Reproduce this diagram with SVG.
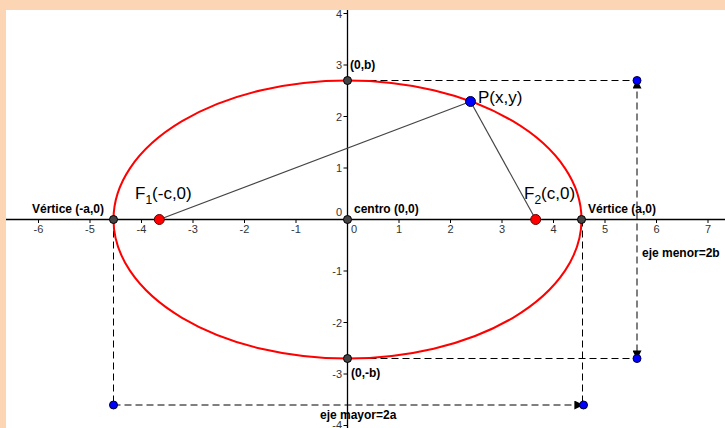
<svg xmlns="http://www.w3.org/2000/svg" width="725" height="428" viewBox="0 0 725 428">
<defs>
<style>
.axis{stroke:#000;stroke-width:1.3;fill:none}
.tick{stroke:#000;stroke-width:1}
.tl{font-family:"Liberation Sans",Arial,sans-serif;font-size:11px;fill:#333}
.tlx{text-anchor:middle}
.tly{text-anchor:end}
.lbl{font-family:"Liberation Sans",Arial,sans-serif;font-size:12px;font-weight:bold;fill:#000}
.big{font-family:"Liberation Sans",Arial,sans-serif;font-size:17px;fill:#000}
.dash{stroke:#000;stroke-width:1;stroke-dasharray:7,4;fill:none}
.seg{stroke:#444;stroke-width:1.2;fill:none}
.gpt{fill:#444;stroke:#000;stroke-width:1}
.rpt{fill:#f00;stroke:#600;stroke-width:1}
.bpt{fill:#00f;stroke:#003;stroke-width:1}
</style>
<marker id="arr" viewBox="0 0 10 10" refX="9" refY="5" markerWidth="9" markerHeight="9" markerUnits="userSpaceOnUse" orient="auto-start-reverse">
<path d="M0,0 L10,5 L0,10 z" fill="#000"/>
</marker>
</defs>
<rect x="0" y="0" width="725" height="428" fill="#fff"/>
<rect x="0" y="0" width="725" height="10" fill="#FCD5B4"/>
<rect x="0" y="0" width="6" height="428" fill="#FCD5B4"/>

<g id="axes">
<line class="axis" x1="6" y1="219.5" x2="725" y2="219.5"/>
<line class="axis" x1="347.5" y1="10" x2="347.5" y2="428"/>
<g class="tick">
<line x1="38.5" y1="219.5" x2="38.5" y2="223"/>
<line x1="90" y1="219.5" x2="90" y2="223"/>
<line x1="141.5" y1="219.5" x2="141.5" y2="223"/>
<line x1="193" y1="219.5" x2="193" y2="223"/>
<line x1="244.5" y1="219.5" x2="244.5" y2="223"/>
<line x1="296" y1="219.5" x2="296" y2="223"/>
<line x1="399" y1="219.5" x2="399" y2="223"/>
<line x1="450.5" y1="219.5" x2="450.5" y2="223"/>
<line x1="502" y1="219.5" x2="502" y2="223"/>
<line x1="553.5" y1="219.5" x2="553.5" y2="223"/>
<line x1="605" y1="219.5" x2="605" y2="223"/>
<line x1="656.5" y1="219.5" x2="656.5" y2="223"/>
<line x1="708" y1="219.5" x2="708" y2="223"/>
<line x1="343.5" y1="13.5" x2="347.5" y2="13.5"/>
<line x1="343.5" y1="65" x2="347.5" y2="65"/>
<line x1="343.5" y1="116.5" x2="347.5" y2="116.5"/>
<line x1="343.5" y1="168" x2="347.5" y2="168"/>
<line x1="343.5" y1="271" x2="347.5" y2="271"/>
<line x1="343.5" y1="322.5" x2="347.5" y2="322.5"/>
<line x1="343.5" y1="374" x2="347.5" y2="374"/>
<line x1="343.5" y1="425.5" x2="347.5" y2="425.5"/>
</g>
<g class="tl tlx">
<text x="38.5" y="233">-6</text>
<text x="90" y="233">-5</text>
<text x="141.5" y="233">-4</text>
<text x="193" y="233">-3</text>
<text x="244.5" y="233">-2</text>
<text x="296" y="233">-1</text>
<text x="354" y="233">0</text>
<text x="399" y="233">1</text>
<text x="450.5" y="233">2</text>
<text x="502" y="233">3</text>
<text x="553.5" y="233">4</text>
<text x="605" y="233">5</text>
<text x="656.5" y="233">6</text>
<text x="708" y="233">7</text>
</g>
<g class="tl tly">
<text x="342" y="17.5">4</text>
<text x="342" y="69">3</text>
<text x="342" y="120.5">2</text>
<text x="342" y="172">1</text>
<text x="342" y="216">0</text>
<text x="342" y="275">-1</text>
<text x="342" y="326.5">-2</text>
<text x="342" y="378">-3</text>
<text x="342" y="429">-4</text>
</g>
</g>

<g id="connectors">
<line class="dash" x1="347.5" y1="80.5" x2="637" y2="80.5"/>
<line class="dash" x1="347.5" y1="358.5" x2="637" y2="358.5"/>
<line class="dash" x1="113.5" y1="219.5" x2="113.5" y2="405"/>
<line class="dash" x1="582.5" y1="219.5" x2="582.5" y2="405"/>
<line class="dash" x1="637" y1="80.5" x2="637" y2="358.5" marker-start="url(#arr)" marker-end="url(#arr)"/>
<line class="dash" x1="113.5" y1="405" x2="582.5" y2="405" marker-end="url(#arr)"/>
<line class="seg" x1="159.3" y1="219.5" x2="470.5" y2="101.5"/>
<line class="seg" x1="470.5" y1="101.5" x2="535.7" y2="219.5"/>
</g>

<g id="ellipse">
<ellipse cx="347.5" cy="219.5" rx="234" ry="139" fill="none" stroke="#f00" stroke-width="2"/>
</g>

<g id="vertex-left">
<circle class="gpt" cx="113.5" cy="219.5" r="4"/>
<text class="lbl" x="32" y="213">Vértice (-a,0)</text>
</g>
<g id="vertex-right">
<circle class="gpt" cx="581.5" cy="219.5" r="4"/>
<text class="lbl" x="588" y="213">Vértice (a,0)</text>
</g>
<g id="co-vertex-top">
<circle class="gpt" cx="347.5" cy="80.5" r="4"/>
<text class="lbl" x="350" y="69">(0,b)</text>
</g>
<g id="co-vertex-bottom">
<circle class="gpt" cx="347.5" cy="358.5" r="4"/>
<text class="lbl" x="351" y="377">(0,-b)</text>
</g>
<g id="center">
<circle class="gpt" cx="347.5" cy="219.5" r="4"/>
<text class="lbl" x="354" y="213">centro (0,0)</text>
</g>
<g id="focus1">
<circle class="rpt" cx="159.3" cy="219.5" r="5"/>
<text class="big" x="135" y="199">F<tspan font-size="12" dy="5">1</tspan><tspan dy="-5">(-c,0)</tspan></text>
</g>
<g id="focus2">
<circle class="rpt" cx="535.7" cy="219.5" r="5"/>
<text class="big" x="524" y="199">F<tspan font-size="12" dy="5">2</tspan><tspan dy="-5">(c,0)</tspan></text>
</g>
<g id="point-P">
<circle class="bpt" cx="470.5" cy="101.5" r="5"/>
<text class="big" x="478" y="103">P(x,y)</text>
</g>
<g id="minor-axis">
<circle class="bpt" cx="637" cy="80.5" r="4"/>
<circle class="bpt" cx="637" cy="358.5" r="4"/>
<text class="lbl" x="642" y="257">eje menor=2b</text>
</g>
<g id="major-axis">
<circle class="bpt" cx="113.5" cy="405" r="4"/>
<circle class="bpt" cx="583.5" cy="405" r="4"/>
<text class="lbl" x="320" y="419">eje mayor=2a</text>
</g>
</svg>
